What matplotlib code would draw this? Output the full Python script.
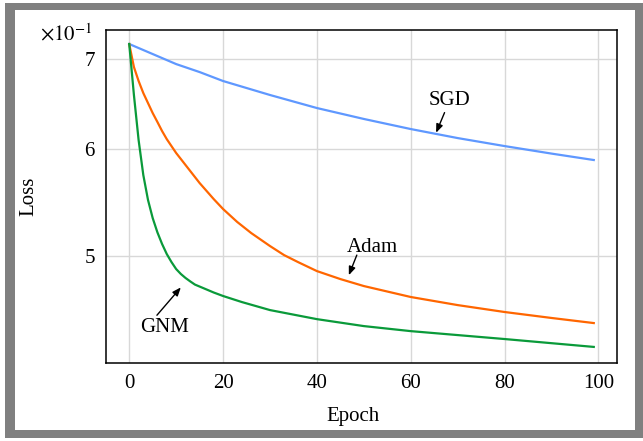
import matplotlib
matplotlib.use('Agg')
import matplotlib.pyplot as plt
from matplotlib.patches import Rectangle
from matplotlib.ticker import FixedLocator, FixedFormatter, NullLocator

plt.rcParams['font.family'] = ['Liberation Serif', 'DejaVu Serif']
plt.rcParams['mathtext.fontset'] = 'stix'

# loss values (log axis)
sgd_epoch = [0, 5, 10, 15, 20, 30, 40, 50, 60, 70, 80, 90, 99]
sgd_loss = [0.7182, 0.7060, 0.6940, 0.6846, 0.6742, 0.6583, 0.6438,
            0.6319, 0.6211, 0.6116, 0.6033, 0.5956, 0.5891]

adam_epoch = [0, 1, 2, 3, 4, 5, 6, 7, 8, 9, 10, 12, 15, 18, 20, 23, 26,
              30, 33, 36, 40, 45, 50, 60, 70, 80, 90, 99]
adam_loss = [0.7182, 0.6905, 0.6742, 0.6605, 0.6493, 0.6383, 0.6287,
             0.6190, 0.6105, 0.6033, 0.5962, 0.5841, 0.5664, 0.5511,
             0.5418, 0.5300, 0.5200, 0.5086, 0.5008, 0.4948, 0.4873,
             0.4807, 0.4750, 0.4662, 0.4598, 0.4544, 0.4498, 0.4459]

gnm_epoch = [0, 1, 2, 3, 4, 5, 6, 7, 8, 9, 10, 11, 12, 13, 14, 16, 18,
             20, 24, 30, 40, 50, 60, 80, 99]
gnm_loss = [0.7182, 0.6583, 0.6095, 0.5742, 0.5503, 0.5335, 0.5207,
            0.5104, 0.5017, 0.4949, 0.4890, 0.4849, 0.4816, 0.4788,
            0.4762, 0.4730, 0.4698, 0.4670, 0.4622, 0.4559, 0.4489,
            0.4436, 0.4398, 0.4339, 0.4281]

xticks = [0, 20, 40, 60, 80, 100]
yticks = [0.5, 0.6, 0.7]
yticklabels = ['5', '6', '7']

W, H = 643, 441
fig = plt.figure(figsize=(W / 100, H / 100), dpi=100)

# gray frame around the picture
fig.patches.append(Rectangle((5 / W, 3 / H), 638 / W, 435 / H,
                             transform=fig.transFigure, facecolor='#808080',
                             edgecolor='none', zorder=-2))
fig.patches.append(Rectangle((15 / W, 11 / H), 620 / W, 420 / H,
                             transform=fig.transFigure, facecolor='white',
                             edgecolor='none', zorder=-1))

ax = fig.add_axes([106 / W, (H - 363) / H, 511 / W, 333 / H])
ax.patch.set_facecolor('white')

ax.plot(sgd_epoch, sgd_loss, color='#5f98ff', lw=1.6, zorder=3)
ax.plot(adam_epoch, adam_loss, color='#ff6600', lw=1.6, zorder=3)
ax.plot(gnm_epoch, gnm_loss, color='#0a9a3a', lw=1.6, zorder=3)

ax.set_yscale('log')
ax.set_xlim(-4.95, 103.95)
ax.set_ylim(0.4165, 0.7356)

ax.xaxis.set_major_locator(FixedLocator(xticks))
ax.yaxis.set_major_locator(FixedLocator(yticks))
ax.yaxis.set_major_formatter(FixedFormatter(yticklabels))
ax.yaxis.set_minor_locator(NullLocator())
ax.tick_params(length=0, labelsize=15)
ax.tick_params(axis='x', pad=8)
ax.tick_params(axis='y', pad=8)
ax.grid(True, color='#d8d8d8', lw=1.0)
ax.set_axisbelow(True)
for s in ax.spines.values():
    s.set_linewidth(1.1)

ax.set_xlabel('Epoch', fontsize=15)
ax.set_ylabel('Loss', fontsize=15)
ax.xaxis.set_label_coords((353 - 106) / 511, -(407 - 363) / 333)
ax.yaxis.set_label_coords(-(106 - 38) / 511, 0.5)

fig.text(66 / W, (H - 35) / H, r'$\times10^{-1}$', fontsize=15,
         ha='center', va='center')

arrow = dict(arrowstyle='-|>,head_length=0.5,head_width=0.2', color='black',
             lw=1.0, shrinkA=0, shrinkB=0)
ax.annotate('', xy=(65.4, 0.6172), xytext=(67.2, 0.6388), arrowprops=arrow)
ax.text(68.3, 0.652, 'SGD', fontsize=15, ha='center', va='center')
ax.annotate('', xy=(46.8, 0.4839), xytext=(48.5, 0.5008), arrowprops=arrow)
ax.text(51.9, 0.5072, 'Adam', fontsize=15, ha='center', va='center')
ax.annotate('', xy=(11.0, 0.4739), xytext=(5.9, 0.4519), arrowprops=arrow)
ax.text(7.6, 0.4426, 'GNM', fontsize=15, ha='center', va='center')

fig.savefig('out.png', dpi=100)
